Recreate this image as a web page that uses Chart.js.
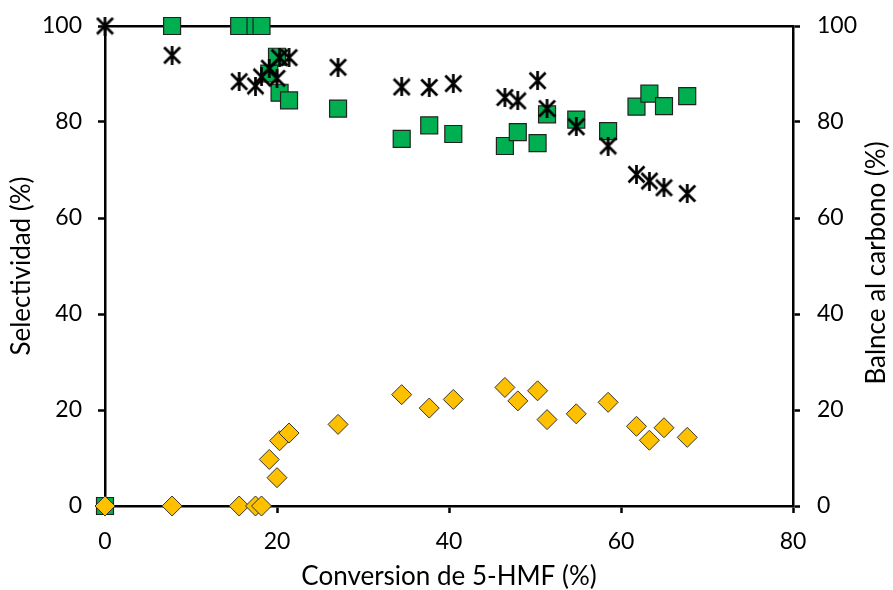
<!DOCTYPE html>
<html><head><meta charset="utf-8">
<script src="https://cdn.jsdelivr.net/npm/chart.js@4/dist/chart.umd.min.js"></script>
<style>html,body{margin:0;padding:0;background:#fff}</style>
</head><body>
<canvas id="c" width="893" height="590"></canvas>
<script>
// Conversion de 5-HMF (%)
const conversion = [0, 7.8, 15.6, 17.5, 18.2, 19.1, 20.0, 20.3, 21.4, 27.1, 34.5, 37.7, 40.5, 46.5, 48.0, 50.3, 51.4, 54.8, 58.5, 61.8, 63.3, 65.0, 67.7];
// Selectividad (%) - green squares
const selectividadVerde = [0, 100, 100, 100, 100, 90.1, 93.6, 86.1, 84.5, 82.8, 76.5, 79.3, 77.5, 75.0, 77.9, 75.6, 81.6, 80.5, 78.1, 83.2, 85.9, 83.3, 85.4];
// Selectividad (%) - yellow diamonds
const selectividadAmarilla = [0, 0, 0, 0, 0, 9.7, 5.9, 13.6, 15.2, 17.0, 23.2, 20.4, 22.2, 24.7, 21.9, 24.0, 18.0, 19.2, 21.6, 16.6, 13.7, 16.3, 14.3];
// Balance al carbono (%) - asterisks, right axis
const balanceCarbono = [100, 93.9, 88.4, 87.5, 89.4, 91.2, 89.1, 93.4, 93.4, 91.4, 87.3, 87.2, 88.0, 85.1, 84.4, 88.6, 82.8, 79.0, 75.0, 69.1, 67.7, 66.3, 65.1];
const xTicks = [0, 20, 40, 60, 80];
const yTicks = [0, 20, 40, 60, 80, 100];
const rightTitle = 'Balnce al carbono (%)';

function makeStar(size, lw) {
  const c = document.createElement('canvas');
  c.width = size; c.height = size;
  const g = c.getContext('2d');
  g.strokeStyle = '#000'; g.lineWidth = lw;
  const a = 1.5, b = size - 1.5;
  g.beginPath();
  g.moveTo(a, a); g.lineTo(b, b);
  g.moveTo(b, a); g.lineTo(a, b);
  g.moveTo(size / 2, 0); g.lineTo(size / 2, size);
  g.stroke();
  return c;
}
const star = makeStar(19, 2.7);

const pts = (ys) => conversion.map((x, i) => ({x: x, y: ys[i]}));
const FONT = 'Lato';
const tickFont = {family: FONT, size: 23};
const titleFont = {family: FONT, size: 26, lineHeight: 1};
const axisCommon = {
  border: {color: '#000', width: 2.5},
  grid: {drawOnChartArea: false, drawTicks: true, tickLength: 7, tickColor: '#000', tickWidth: 2.5, color: '#000'},
};

const rightTitlePlugin = {
  id: 'rightTitle',
  afterDraw(chart) {
    const ctx = chart.ctx;
    ctx.save();
    ctx.translate(877, 263);
    ctx.rotate(-Math.PI / 2);
    ctx.font = '26px ' + FONT;
    ctx.fillStyle = '#000';
    ctx.textAlign = 'center';
    ctx.textBaseline = 'middle';
    ctx.fillText(rightTitle, 0, 0);
    ctx.restore();
  }
};

new Chart(document.getElementById('c'), {
  type: 'scatter',
  data: {datasets: [
    {label: 'Balance al carbono', data: pts(balanceCarbono), yAxisID: 'y2', pointStyle: star, pointRadius: 9, clip: false},
    {label: 'Selectividad B', data: pts(selectividadAmarilla), yAxisID: 'y', pointStyle: 'rectRot', pointRadius: 10, backgroundColor: '#FFC000', borderColor: '#333', borderWidth: 1, clip: false},
    {label: 'Selectividad A', data: pts(selectividadVerde), yAxisID: 'y', pointStyle: 'rect', pointRadius: 12, backgroundColor: '#00B050', borderColor: '#222', borderWidth: 1.2, clip: false}
  ]},
  plugins: [rightTitlePlugin],
  options: {
    responsive: false, animation: false,
    layout: {padding: 0},
    plugins: {legend: {display: false}, tooltip: {enabled: false}},
    scales: {
      x: Object.assign({}, axisCommon, {
        type: 'linear', position: 'bottom', min: xTicks[0], max: xTicks[xTicks.length - 1],
        afterBuildTicks: s => { s.ticks = xTicks.map(v => ({value: v})); },
        ticks: {font: tickFont, color: '#000', padding: 15, maxRotation: 0},
        title: {display: true, text: 'Conversion de 5-HMF (%)', font: titleFont, color: '#000', padding: {top: 0, bottom: 0}},
        afterFit: s => { s.height = 84; s.paddingLeft = 0; s.paddingRight = 0; }
      }),
      xTop: {
        type: 'linear', position: 'top', min: 0, max: 80,
        ticks: {display: false}, grid: {display: false},
        border: {color: '#000', width: 2.5},
        afterFit: s => { s.height = 26; s.paddingLeft = 0; s.paddingRight = 0; }
      },
      y: Object.assign({}, axisCommon, {
        type: 'linear', position: 'left', min: 0, max: 100,
        afterBuildTicks: s => { s.ticks = yTicks.map(v => ({value: v})); },
        ticks: {font: tickFont, color: '#000', padding: 16},
        title: {display: true, text: 'Selectividad (%)', font: titleFont, color: '#000', padding: {top: 9, bottom: 0}},
        afterFit: s => { s.width = 105; s.paddingTop = 0; s.paddingBottom = 0; }
      }),
      y2: Object.assign({}, axisCommon, {
        type: 'linear', position: 'right', min: 0, max: 100,
        afterBuildTicks: s => { s.ticks = yTicks.map(v => ({value: v})); },
        ticks: {font: tickFont, color: '#000', padding: 17},
        title: {display: false},
        afterFit: s => { s.width = 100; s.paddingTop = 0; s.paddingBottom = 0; }
      })
    }
  }
});
</script>
</body></html>
